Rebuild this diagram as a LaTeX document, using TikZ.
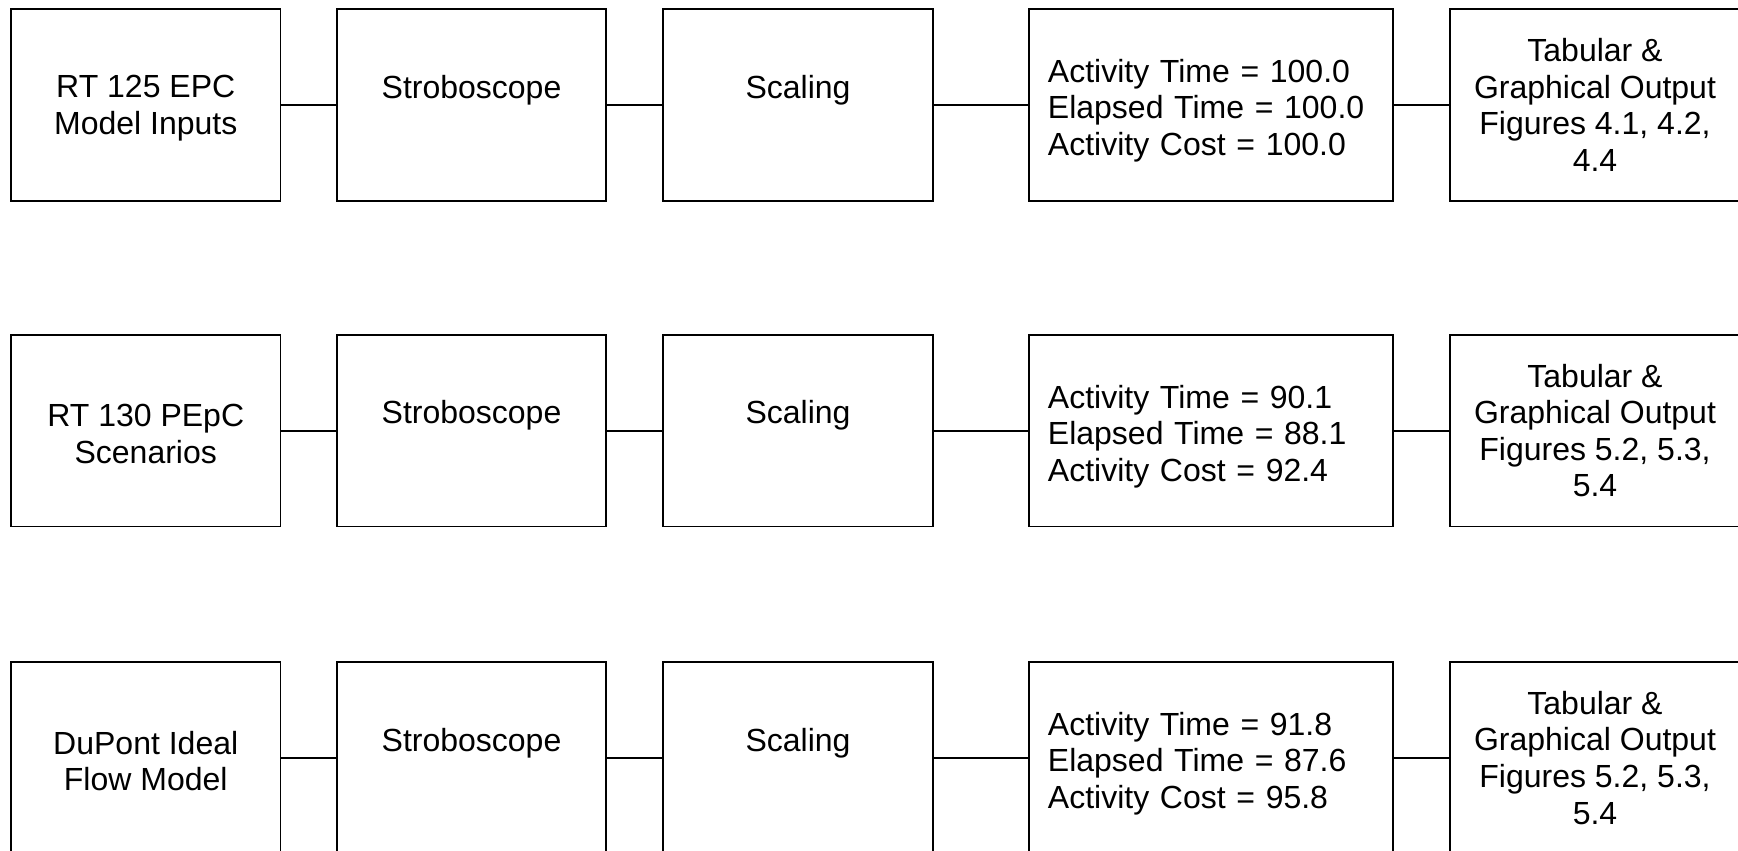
\documentclass[tikz,border=0pt]{standalone}
\usepackage{fontspec}
\setmainfont{Liberation Sans}
\begin{document}
\begin{tikzpicture}[x=1pt,y=-1pt,
  every node/.style={font=\fontsize{32}{36.6}\selectfont},
  box/.style={draw=black, line width=1.8pt, rectangle, minimum height=191.7pt, inner sep=0pt, align=center},
  narrow/.style={box, minimum width=269.3pt},
  stat/.style={box, minimum width=364.7pt},
  stattext/.style={text width=325pt, inner sep=0pt, align=left},
  intext/.style={inner sep=0pt, align=center},
  outbox/.style={box, minimum width=290pt},
  link/.style={draw=black, line width=1.8pt}]
\useasboundingbox (0,0) rectangle (1738,851);
\foreach \r/\y/\inp/\at/\et/\ac/\fig in {
  1/104.75/{RT 125 EPC\\Model Inputs}/100.0/100.0/100.0/{4.1, 4.2,\\4.4},
  2/430.6/{RT 130 PEpC\\Scenarios}/90.1/88.1/92.4/{5.2, 5.3,\\5.4},
  3/757.7/{DuPont Ideal\\Flow Model}/91.8/87.6/95.8/{5.2, 5.3,\\5.4}}{
  \node[narrow] (in\r) at (145.75,\y) {};
  \node[intext] (int\r) at (145.75,\y+3.5) {\inp};
  \node[narrow] (st\r) at (471.5,\y) {Stroboscope\\\phantom{X}};
  \node[narrow] (sc\r) at (798,\y) {Scaling\\\phantom{X}};
  \node[stat] (re\r) at (1211,\y) {};
  \node[stattext, anchor=west] (ret\r) at ([xshift=20pt,yshift=-5.8pt]re\r.west) {Activity Time = \at\\Elapsed Time = \et\\Activity Cost = \ac};
  \node[outbox] (out\r) at (1595,\y) {Tabular \&\\Graphical Output\\Figures \fig};
  \draw[link] (in\r) -- (st\r);
  \draw[link] (st\r) -- (sc\r);
  \draw[link] (sc\r) -- (re\r);
  \draw[link] (re\r) -- (out\r);
}
\end{tikzpicture}
\end{document}
